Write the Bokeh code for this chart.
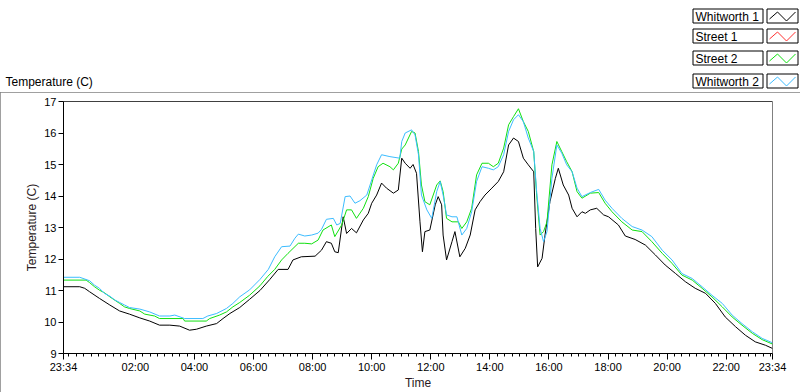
from datetime import datetime, timedelta

from bokeh.plotting import figure
from bokeh.layouts import column
from bokeh.models import FixedTicker, DatetimeTickFormatter, Range1d, Span
from bokeh.core.properties import value
from bokeh.embed import file_html
from bokeh.resources import INLINE

# ---------------- data ----------------
start_time = "2014-06-01 23:34"          # first sample (chart spans 24 h)
chart_title = "Temperature (C)"
series_names = ["Whitworth 1", "Street 1", "Street 2", "Whitworth 2"]
series_colors = ["#000000", "#ff3030", "#10e010", "#3cbcff"]

# minutes after start, temperature (C)
whit1_minutes = [0, 33, 43, 53, 73, 94, 114, 134, 155, 175, 195, 216, 236, 256, 270, 290, 311, 324, 338, 358,
                 378, 399, 419, 436, 456, 466, 483, 511, 524, 534, 544, 551, 558, 568, 575, 585, 595, 609, 619, 626,
                 636, 646, 656, 670, 680, 687, 694, 704, 710, 717, 724, 729, 734, 744, 755, 761, 768, 771, 778, 789,
                 795, 805, 816, 826, 836, 846, 856, 870, 883, 894, 904, 914, 924, 934, 944, 955, 959, 963, 972, 978,
                 988, 999, 1005, 1015, 1026, 1033, 1043, 1053, 1060, 1070, 1083, 1097, 1107, 1127, 1141, 1161, 1182,
                 1202, 1222, 1243, 1263, 1283, 1304, 1324, 1344, 1365, 1385, 1405, 1426, 1440]
whit1_temp = [11.12, 11.12, 11.07, 10.96, 10.75, 10.54, 10.35, 10.25, 10.13, 10.03,
              9.90, 9.90, 9.87, 9.74, 9.77, 9.87, 9.95, 10.11, 10.27, 10.46,
              10.72, 11.0, 11.35, 11.67, 11.67, 11.97, 12.07, 12.09, 12.28, 12.55,
              12.50, 12.23, 12.20, 13.34, 12.81, 12.97, 12.83, 13.24, 13.45, 13.77,
              14.03, 14.41, 14.25, 14.09, 14.19, 15.20, 15.04, 14.88, 15.0, 14.72,
              13.18, 12.23, 12.87, 12.92, 13.72, 13.98, 13.72, 12.76, 11.97, 12.55,
              12.87, 12.07, 12.34, 12.76, 13.56, 13.82, 14.03, 14.25, 14.46, 14.77,
              15.62, 15.84, 15.73, 15.20, 14.99, 14.77, 12.97, 11.75, 12.02, 12.76,
              13.82, 14.56, 14.88, 14.35, 14.03, 13.61, 13.34, 13.50, 13.45, 13.56,
              13.61, 13.40, 13.34, 13.08, 12.73, 12.62, 12.44, 12.13, 11.81, 11.54,
              11.28, 11.07, 10.91, 10.59, 10.16, 9.85, 9.58, 9.37, 9.26, 9.16]

street1_minutes = []
street1_temp = []

street2_minutes = [0, 46, 53, 63, 73, 83, 94, 114, 124, 134, 155, 165, 185, 195, 243, 246, 290, 297, 317, 331,
                   344, 358, 378, 399, 415, 429, 443, 456, 477, 490, 504, 517, 527, 544, 551, 565, 575, 585, 595,
                   609, 619, 629, 639, 649, 663, 670, 680, 687, 694, 707, 714, 721, 727, 734, 744, 758, 765, 771,
                   778, 789, 802, 809, 819, 829, 839, 850, 863, 873, 883, 894, 904, 914, 924, 934, 944, 955, 961,
                   968, 975, 982, 992, 1002, 1012, 1022, 1033, 1043, 1053, 1070, 1087, 1100, 1114, 1134, 1155,
                   1175, 1195, 1216, 1236, 1256, 1277, 1297, 1317, 1338, 1358, 1378, 1399, 1419, 1440]
street2_temp = [11.33, 11.33, 11.25, 11.12, 11.01, 10.93, 10.80, 10.59, 10.48, 10.43,
                10.35, 10.25, 10.19, 10.11, 10.11, 10.03, 10.03, 10.11, 10.22, 10.32,
                10.48, 10.62, 10.85, 11.15, 11.45, 11.67, 11.97, 12.18, 12.50, 12.50,
                12.48, 12.60, 12.92, 13.08, 12.71, 13.08, 13.56, 13.56, 13.29,
                13.61, 13.98, 14.56, 14.93, 15.04, 14.93, 14.83, 15.04, 15.49, 15.62, 16.05,
                16.0, 15.41, 14.35, 13.82, 13.72, 14.35, 14.48, 14.14,
                13.29, 13.18, 13.18, 12.97, 13.18, 13.61, 14.67, 15.04, 15.04, 14.93, 15.04,
                15.52, 16.26, 16.52, 16.77, 16.36, 16.05, 15.41, 14.03,
                12.76, 12.87, 13.18, 14.99, 15.73, 15.41, 15.09, 14.77, 14.14, 13.93, 14.09,
                14.11, 13.77, 13.50, 13.18, 12.92,
                12.87, 12.55, 12.18, 11.86, 11.49, 11.33, 11.07, 10.80, 10.48, 10.16, 9.90,
                9.64, 9.44, 9.30]

whit2_minutes = [0, 33, 53, 63, 73, 83, 94, 104, 114, 124, 134, 155, 175, 195, 216, 226, 246, 283, 293, 311,
                 331, 344, 358, 378, 399, 416, 429, 443, 460, 470, 477, 490, 504, 517, 524, 534, 548, 555, 562,
                 572, 582, 592, 602, 616, 626, 636, 646, 663, 683, 687, 694, 707, 714, 721, 727, 738, 748, 758,
                 765, 771, 778, 789, 799, 809, 819, 829, 839, 850, 863, 873, 883, 894, 904, 914, 924, 934, 944,
                 955, 961, 968, 975, 982, 992, 1002, 1012, 1022, 1033, 1043, 1053, 1070, 1087, 1100, 1114, 1134,
                 1155, 1175, 1195, 1216, 1236, 1256, 1277, 1297, 1317, 1338, 1358, 1378, 1399, 1419, 1440]
whit2_temp = [11.42, 11.42, 11.31, 11.17, 11.07, 10.91, 10.82, 10.70, 10.62, 10.54,
              10.46, 10.41, 10.32, 10.19, 10.19, 10.22, 10.11, 10.11, 10.19, 10.27,
              10.43, 10.59, 10.80, 11.02, 11.35, 11.67, 12.07, 12.39, 12.41, 12.66,
              12.79, 12.73, 12.76, 12.82, 12.94, 13.26, 13.29, 13.08, 13.13,
              13.98, 14.00, 13.77, 13.85, 14.03, 14.51, 14.99, 15.31, 15.25, 15.20, 15.73,
              16.00, 16.10, 15.94, 15.31, 14.03, 13.56, 13.29, 14.14,
              14.46, 14.03, 13.40, 13.34, 13.34, 12.76, 12.97, 13.50, 14.46, 14.93, 14.88,
              14.83, 14.93, 15.31, 16.05, 16.42, 16.58, 16.36, 15.84,
              15.41, 14.14, 12.97, 12.55, 12.87, 14.56, 15.62, 15.36, 14.99, 14.77,
              14.25, 13.98, 14.11, 14.21, 13.87, 13.61, 13.29,
              13.03, 12.92, 12.71, 12.28, 11.97, 11.54, 11.38, 11.12, 10.85, 10.59,
              10.22, 9.95, 9.69, 9.48, 9.34]

x_tick_labels = ["23:34", "02:00", "04:00", "06:00", "08:00", "10:00", "12:00",
                 "14:00", "16:00", "18:00", "20:00", "22:00", "23:34"]
y_ticks = [9, 10, 11, 12, 13, 14, 15, 16, 17]
y_min, y_max = 9, 17

# ---------------- helpers ----------------
t0 = datetime.strptime(start_time, "%Y-%m-%d %H:%M")
EPOCH = datetime(1970, 1, 1)
FONT = "Liberation Sans"


def to_dt(minutes):
    return [t0 + timedelta(minutes=m) for m in minutes]


def ms(dt):
    return (dt - EPOCH).total_seconds() * 1000.0


t_end = t0 + timedelta(hours=24)

major = []
for i, lab in enumerate(x_tick_labels):
    if i == 0:
        major.append(ms(t0))
    elif i == len(x_tick_labels) - 1:
        major.append(ms(t_end))
    else:
        h, mi = map(int, lab.split(":"))
        major.append(ms(t0.replace(hour=h, minute=mi) + timedelta(days=1)))
minor = []
q = t0.replace(minute=45)
while q < t_end:
    minor.append(ms(q))
    q += timedelta(minutes=15)

# ---------------- header strip (title + legend) ----------------
W = 800
HEAD_H = 92
head = figure(width=W, height=HEAD_H, x_range=Range1d(0, W), y_range=Range1d(HEAD_H, 0),
              output_backend="svg", toolbar_location=None, x_axis_location=None,
              y_axis_location=None, min_border=0, min_border_left=0, min_border_right=0,
              min_border_top=0, min_border_bottom=0)
head.frame_align = False
head.outline_line_color = None
head.grid.visible = False
head.background_fill_color = "white"
head.border_fill_color = "white"

head.text(x=[5], y=[81], text=[chart_title], text_baseline="middle", text_align="left",
          text_font=value(FONT), text_font_size="12px", text_color="black")

row_top = [8.5, 28.5, 50.5, 73.5]
row_bot = [r + 14 for r in row_top]
head.quad(left=692.5, right=762.5, top=row_top, bottom=row_bot,
          fill_color="white", line_color="black", line_width=1)
head.quad(left=766.5, right=797.5, top=row_top, bottom=row_bot,
          fill_color="white", line_color="black", line_width=1)
head.text(x=[695] * 4, y=[r + 7.5 for r in row_top], text=series_names, text_baseline="middle",
          text_align="left", text_font=value(FONT), text_font_size="12px", text_color="black")
zig_xs = [[769, 777, 786, 795] for _ in row_top]
zig_ys = [[r + 10, r + 3, r + 12, r + 3] for r in row_top]
head.multi_line(xs=zig_xs, ys=zig_ys, line_color=series_colors, line_width=1)

# ---------------- main chart ----------------
p = figure(width=W, height=300, x_axis_type="datetime", output_backend="svg",
           toolbar_location=None, x_range=Range1d(t0, t_end), y_range=Range1d(y_min, y_max),
           min_border_left=63, min_border_right=28, min_border_top=9, min_border_bottom=39,
           styles={"outline": "1px solid #808080", "outline-offset": "-1px"})
p.frame_align = False
p.background_fill_color = "white"
p.border_fill_color = "white"
p.outline_line_color = "#808080"
p.grid.visible = False

p.xaxis.ticker = FixedTicker(ticks=major, minor_ticks=minor)
fmt = "%H:%M"
p.xaxis.formatter = DatetimeTickFormatter(microseconds=fmt, milliseconds=fmt, seconds=fmt, minsec=fmt,
                                          minutes=fmt, hourmin=fmt, hours=fmt, days=fmt, months=fmt,
                                          years=fmt)
p.yaxis.ticker = FixedTicker(ticks=y_ticks)
p.xaxis.axis_label = "Time"
p.yaxis.axis_label = "Temperature (C)"
p.axis.axis_line_color = "black"
p.axis.major_tick_line_color = "black"
p.axis.minor_tick_line_color = "black"
p.yaxis.minor_tick_line_color = None
p.axis.major_tick_in = 0
p.axis.minor_tick_in = 0
p.xaxis.major_tick_out = 6
p.yaxis.major_tick_out = 5
p.xaxis.minor_tick_out = 3
p.axis.major_label_text_font = FONT
p.axis.major_label_text_font_size = "11px"
p.axis.major_label_text_color = "black"
p.xaxis.major_label_standoff = 1
p.yaxis.major_label_standoff = 2
p.axis.axis_label_text_font = FONT
p.axis.axis_label_text_font_size = "12px"
p.axis.axis_label_text_font_style = "normal"
p.axis.axis_label_text_color = "#2a1a22"
p.xaxis.axis_label_standoff = 0
p.yaxis.axis_label_standoff = 2

p.add_layout(Span(location=y_max, dimension="width", line_color="black", line_width=1))

for mins, temps, color in [(whit1_minutes, whit1_temp, series_colors[0]),
                           (street1_minutes, street1_temp, series_colors[1]),
                           (street2_minutes, street2_temp, series_colors[2]),
                           (whit2_minutes, whit2_temp, series_colors[3])]:
    if mins:
        p.line(to_dt(mins), temps, line_color=color, line_width=1)

layout = column(head, p, spacing=0)
open("out.html", "w").write(file_html(layout, INLINE))
